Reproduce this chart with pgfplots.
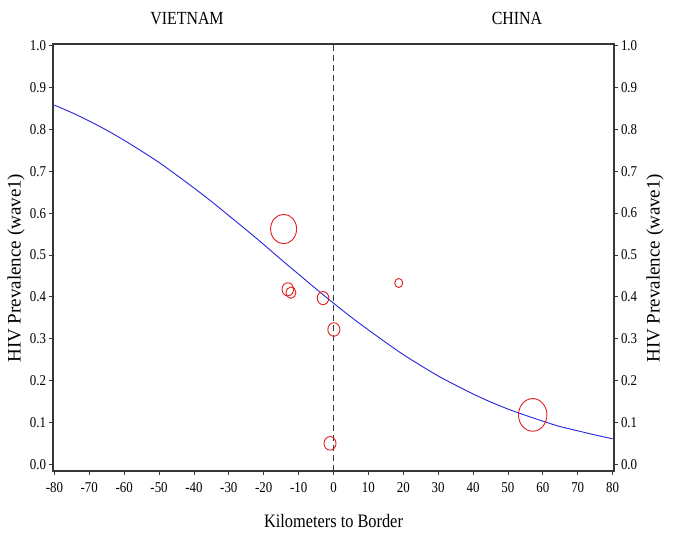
\documentclass[border=0pt]{standalone}
\usepackage{fontspec}
\setmainfont{Liberation Serif}
\usepackage{pgfplots}
\pgfplotsset{compat=1.18}

\definecolor{axgray}{RGB}{55,55,55}
\definecolor{curveblue}{RGB}{35,35,225}
\definecolor{bubred}{RGB}{228,30,30}

\pgfplotsset{
  hivbase/.style={
    scale only axis, width=561pt, height=427pt,
    xmin=-80.4, xmax=80.4, ymin=-0.016, ymax=1.004,
    ytick={0,0.1,0.2,0.3,0.4,0.5,0.6,0.7,0.8,0.9,1.0},
    yticklabel style={/pgf/number format/fixed, /pgf/number format/fixed zerofill, /pgf/number format/precision=1},
    /pgf/number format/assume math mode=true,
    tick align=outside, major tick length=4pt,
    tick style={axgray, line width=0.8pt},
    axis line style={axgray, line width=1.1pt},
    tick label style={font=\fontsize{15}{16}\selectfont, xscale=0.86},
    label style={font=\fontsize{19}{20}\selectfont},
  }
}

\begin{document}
\begin{tikzpicture}
\begin{axis}[hivbase,
    xtick={-80,-70,-60,-50,-40,-30,-20,-10,0,10,20,30,40,50,60,70,80},
    xtick pos=bottom, ytick pos=left,
    xticklabel style={yshift=-4pt},
    xlabel={Kilometers to Border},
    ylabel={HIV Prevalence (wave1)},
    xlabel style={at={(axis description cs:0.5,-0.117)}, anchor=center, xscale=0.86},
    ylabel style={at={(axis description cs:-0.066,0.475)}, anchor=center},
    clip=false]

% dashed border line
\addplot[axgray, line width=0.9pt, dash pattern=on 6pt off 4pt] coordinates {(0,-0.016) (0,1.004)};

% fitted curve
\addplot[curveblue, line width=0.9pt, smooth] coordinates {
  (-80,0.858) (-75,0.840) (-70,0.820) (-65,0.798) (-60,0.774) (-55,0.748)
  (-50,0.721) (-45,0.691) (-40,0.660) (-35,0.628) (-30,0.594) (-25,0.560)
  (-20,0.525) (-15,0.489) (-10,0.454) (-5,0.419) (0,0.385) (5,0.352)
  (10,0.321) (15,0.291) (20,0.262) (25,0.236) (30,0.211) (35,0.189)
  (40,0.168) (45,0.149) (50,0.132) (55,0.117) (60,0.103) (65,0.090)
  (70,0.080) (75,0.070) (80,0.061)
};

% observed prevalence bubbles
\addplot[only marks, mark=o, bubred, mark size=13pt, mark options={line width=0.9pt, yscale=1.13}] coordinates {(-14.3,0.562)};
\addplot[only marks, mark=o, bubred, mark size=5.8pt, mark options={line width=0.9pt, yscale=1.13}] coordinates {(-13.1,0.418)};
\addplot[only marks, mark=o, bubred, mark size=5pt, mark options={line width=0.9pt, yscale=1.13}] coordinates {(-12.2,0.410)};
\addplot[only marks, mark=o, bubred, mark size=5.8pt, mark options={line width=0.9pt, yscale=1.13}] coordinates {(-3.0,0.397)};
\addplot[only marks, mark=o, bubred, mark size=6pt, mark options={line width=0.9pt, yscale=1.13}] coordinates {(0.1,0.322)};
\addplot[only marks, mark=o, bubred, mark size=4pt, mark options={line width=0.9pt, yscale=1.13}] coordinates {(18.7,0.433)};
\addplot[only marks, mark=o, bubred, mark size=6pt, mark options={line width=0.9pt, yscale=1.13}] coordinates {(-1.0,0.050)};
\addplot[only marks, mark=o, bubred, mark size=14.2pt, mark options={line width=0.9pt, yscale=1.15}] coordinates {(57.1,0.118)};

\node[font=\fontsize{18.5}{19}\selectfont, xscale=0.86] at (axis cs:-42,1.066) {VIETNAM};
\node[font=\fontsize{18.5}{19}\selectfont, xscale=0.86] at (axis cs:52.6,1.066) {CHINA};
\end{axis}

\begin{axis}[hivbase,
    axis x line=none, axis y line*=right,
    ytick pos=right, yticklabel pos=right,
    ylabel={HIV Prevalence (wave1)},
    ylabel style={at={(axis description cs:1.073,0.475)}, anchor=center, rotate=0}]
\addplot[draw=none] coordinates {(0,0)};
\end{axis}

\pgfresetboundingbox
\path ([xshift=-53pt,yshift=-79pt]current axis.south west) rectangle ([xshift=71pt,yshift=44pt]current axis.north east);
\end{tikzpicture}
\end{document}
